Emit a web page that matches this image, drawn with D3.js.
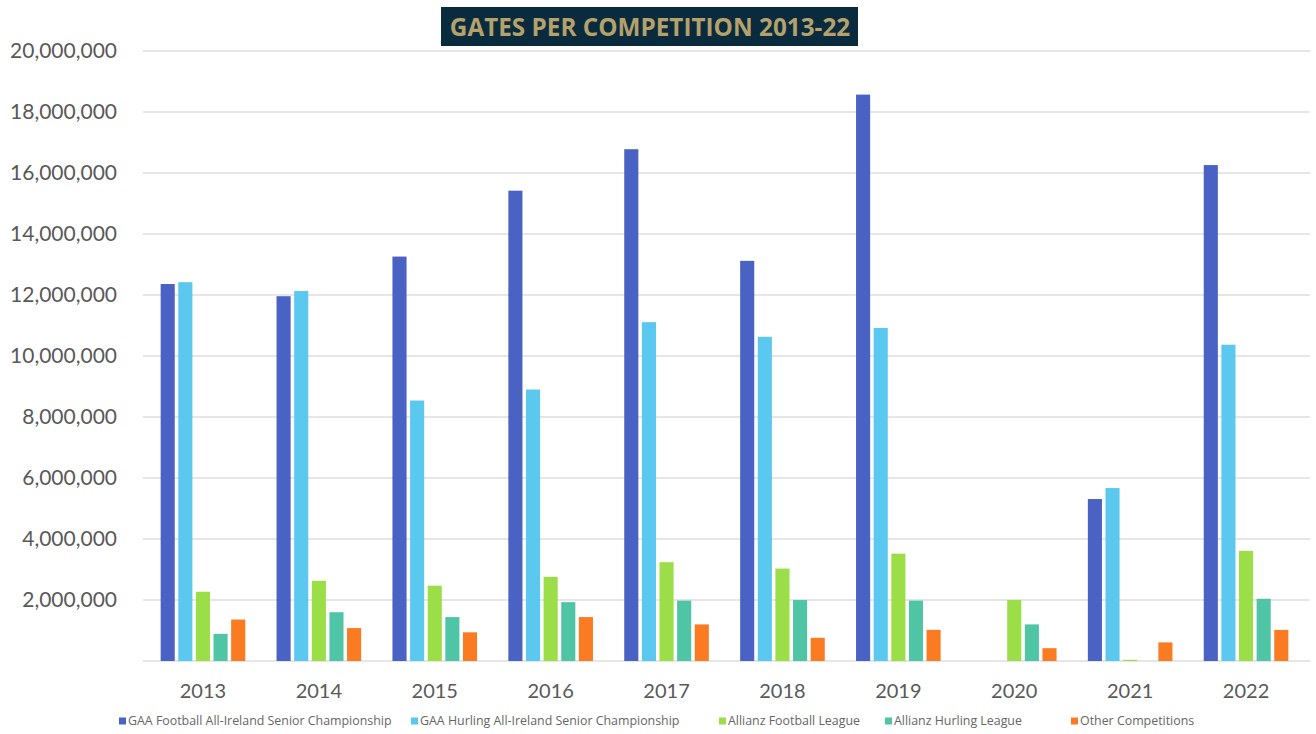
<!DOCTYPE html>
<html>
<head>
<meta charset="utf-8">
<script src="https://cdn.jsdelivr.net/npm/d3@7"></script>
<style>
  body { margin: 0; background: #ffffff; }
  svg { display: block; }
</style>
</head>
<body>
<svg id="chart" width="1316" height="734"></svg>
<script>
// Gate receipts (EUR) per competition, 2013-2022
const years = ["2013", "2014", "2015", "2016", "2017", "2018", "2019", "2020", "2021", "2022"];
const seriesNames = [
  "GAA Football All-Ireland Senior Championship",
  "GAA Hurling All-Ireland Senior Championship",
  "Allianz Football League",
  "Allianz Hurling League",
  "Other Competitions"
];
const footballChampionship = [12360000, 11960000, 13260000, 15420000, 16780000, 13120000, 18570000, 0, 5310000, 16260000];
const hurlingChampionship  = [12420000, 12130000, 8540000, 8900000, 11110000, 10630000, 10920000, 0, 5670000, 10370000];
const footballLeague       = [2270000, 2630000, 2470000, 2760000, 3240000, 3030000, 3520000, 2000000, 40000, 3610000];
const hurlingLeague        = [890000, 1600000, 1440000, 1930000, 1980000, 2000000, 1980000, 1200000, 0, 2040000];
const otherCompetitions    = [1360000, 1080000, 940000, 1440000, 1200000, 760000, 1020000, 420000, 610000, 1020000];
const yTicks = [0, 2000000, 4000000, 6000000, 8000000, 10000000, 12000000, 14000000, 16000000, 18000000, 20000000];
const seriesColors = ["#4a62c4", "#5ac8ef", "#9bde48", "#50c5a6", "#fb7b22"];

const seriesValues = [footballChampionship, hurlingChampionship, footballLeague, hurlingLeague, otherCompetitions];
const rows = years.map((yr, i) => ({ year: yr, values: seriesValues.map(s => s[i]) }));

const svg = d3.select("#chart");
const plot = { left: 145, right: 1304, top: 51, bottom: 661 };

const x0 = d3.scaleBand().domain(years).range([plot.left, plot.right])
  .paddingInner(0.27).paddingOuter(0.135);
const x1 = d3.scaleBand().domain(d3.range(seriesNames.length)).range([0, x0.bandwidth()])
  .paddingInner(0.2).paddingOuter(0);
const y = d3.scaleLinear().domain([0, 20000000]).range([plot.bottom, plot.top]);

// Horizontal gridlines
svg.append("g")
  .selectAll("line")
  .data(yTicks)
  .join("line")
  .attr("x1", 143).attr("x2", 1310)
  .attr("y1", d => y(d)).attr("y2", d => y(d))
  .attr("stroke", "#dedede").attr("stroke-width", 1.5);

// Y axis labels (zero is left unlabelled)
const fmt = d3.format(",");
svg.append("g")
  .selectAll("text")
  .data(yTicks.filter(d => d > 0))
  .join("text")
  .attr("x", 117).attr("y", d => y(d))
  .attr("dy", "0.35em")
  .attr("text-anchor", "end")
  .attr("font-family", "Lato, 'Open Sans', sans-serif")
  .attr("font-size", 21)
  .attr("fill", "#595959")
  .text(d => fmt(d));

// Bars
const groups = svg.append("g")
  .selectAll("g")
  .data(rows)
  .join("g")
  .attr("transform", d => `translate(${x0(d.year)},0)`);

groups.selectAll("rect")
  .data(d => d.values.map((v, k) => ({ k, v })))
  .join("rect")
  .attr("x", d => x1(d.k))
  .attr("width", x1.bandwidth())
  .attr("y", d => y(d.v))
  .attr("height", d => y(0) - y(d.v))
  .attr("fill", d => seriesColors[d.k]);

// Year labels
svg.append("g")
  .selectAll("text")
  .data(years)
  .join("text")
  .attr("x", d => x0(d) + x0.bandwidth() / 2)
  .attr("y", 691)
  .attr("dy", "0.35em")
  .attr("text-anchor", "middle")
  .attr("font-family", "Lato, 'Open Sans', sans-serif")
  .attr("font-size", 20)
  .attr("fill", "#595959")
  .text(d => d);

// Title banner
const title = svg.append("g");
title.append("rect")
  .attr("x", 441).attr("y", 7).attr("width", 417).attr("height", 39)
  .attr("fill", "#0a2b3e");
title.append("text")
  .attr("x", 650).attr("y", 27)
  .attr("dy", "0.35em")
  .attr("text-anchor", "middle")
  .attr("font-family", "'Open Sans', sans-serif")
  .attr("font-weight", 700)
  .attr("font-size", 24.3)
  .attr("fill", "#b4a16b")
  .text("GATES PER COMPETITION 2013-22");

// Legend
const legendX = [119, 411, 719, 885, 1071];
const legend = svg.append("g")
  .selectAll("g")
  .data(seriesNames)
  .join("g")
  .attr("transform", (d, i) => `translate(${legendX[i]},721)`);
legend.append("rect")
  .attr("x", 0).attr("y", -3.5).attr("width", 7).attr("height", 7)
  .attr("fill", (d, i) => seriesColors[i]);
legend.append("text")
  .attr("x", 9).attr("y", 0)
  .attr("dy", "0.35em")
  .attr("font-family", "'Open Sans', sans-serif")
  .attr("font-size", 12.4)
  .attr("fill", "#666666")
  .text(d => d);
</script>
</body>
</html>
